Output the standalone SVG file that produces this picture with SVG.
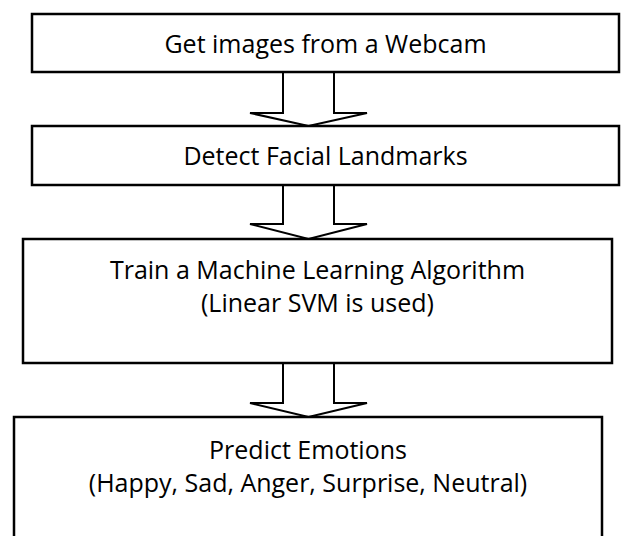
<svg xmlns="http://www.w3.org/2000/svg" width="632" height="536" viewBox="0 0 632 536">
  <style>
    .box { fill: #ffffff; stroke: #000000; stroke-width: 2.5; }
    .arrow { fill: #ffffff; stroke: #000000; stroke-width: 2; stroke-linejoin: miter; }
    .label { font-family: "Open Sans", "Liberation Sans", sans-serif; font-size: 25px; fill: #000000; text-anchor: middle; }
  </style>
  <rect width="632" height="536" fill="#ffffff"/>

  <!-- connectors: hollow block arrows between steps -->
  <g id="connectors">
    <polygon class="arrow" points="283,72 283,113 250,113 308.5,126 367,113 334,113 334,72"/>
    <polygon class="arrow" points="283,185 283,224 250,224 308.5,239 367,224 334,224 334,185"/>
    <polygon class="arrow" points="283,363 283,403 250,403 308.5,417 367,403 334,403 334,363"/>
  </g>

  <g id="step-capture">
    <rect class="box" x="32" y="14" width="587" height="58"/>
    <text class="label" x="325.5" y="53">Get images from a Webcam</text>
  </g>

  <g id="step-landmarks">
    <rect class="box" x="32" y="126" width="587" height="59"/>
    <text class="label" x="325.5" y="165">Detect Facial Landmarks</text>
  </g>

  <g id="step-train">
    <rect class="box" x="23" y="239" width="589" height="124"/>
    <text class="label" x="317.5" y="279">Train a Machine Learning Algorithm</text>
    <text class="label" x="317.5" y="312">(Linear SVM is used)</text>
  </g>

  <g id="step-predict">
    <rect class="box" x="14" y="417" width="588" height="130"/>
    <text class="label" x="308" y="459">Predict Emotions</text>
    <text class="label" x="308" y="492">(Happy, Sad, Anger, Surprise, Neutral)</text>
  </g>
</svg>
